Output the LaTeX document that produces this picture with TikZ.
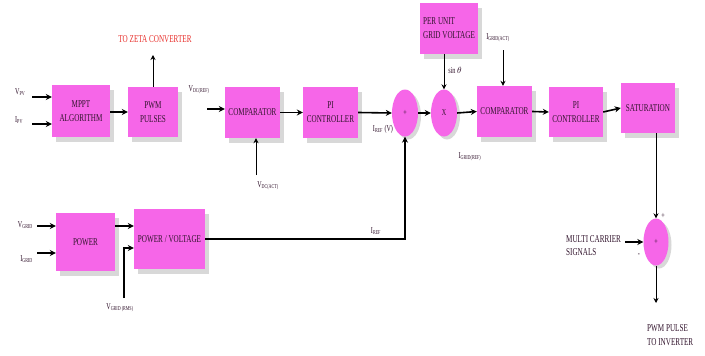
\documentclass[tikz,border=0pt]{standalone}
\usepackage{fontspec}
\setmainfont{Liberation Serif}[FakeStretch=0.68]
\usetikzlibrary{shapes.geometric,shadows,arrows.meta,calc}
\definecolor{boxpink}{RGB}{246,102,232}
\definecolor{txt}{RGB}{50,20,45}
\definecolor{zred}{RGB}{232,48,44}
\tikzset{
  blk/.style={rectangle, fill=boxpink, draw=none, text=txt, align=center,
    font=\fontsize{10.5}{14}\selectfont,
    drop shadow={shadow xshift=4pt, shadow yshift=-5pt, opacity=0.3, fill=gray}},
  sumnode/.style={ellipse, fill=boxpink, draw=none, text=txt, inner sep=0pt,
    font=\fontsize{9}{10}\selectfont,
    drop shadow={shadow xshift=3pt, shadow yshift=-3pt, opacity=0.3, fill=gray}},
  lbl/.style={text=txt, inner sep=0pt, font=\fontsize{9}{10}\selectfont},
  thk/.style={line width=1.6pt, -{Stealth[length=6pt,width=6pt]}},
  thn/.style={line width=0.9pt, -{Stealth[length=5pt,width=5pt]}},
}
\begin{document}
\begin{tikzpicture}[x=1pt,y=-1pt]
\useasboundingbox[fill=white] (0,0) rectangle (705,356);
% blocks
\node[blk, minimum width=58pt, minimum height=52pt] (mppt) at (81,111) {MPPT\\ALGORITHM};
\node[blk, minimum width=50pt, minimum height=50pt] (pwm) at (153,112) {PWM\\PULSES};
\node[blk, minimum width=55pt, minimum height=51pt] (comp1) at (252.5,112.5) {COMPARATOR};
\node[blk, minimum width=55pt, minimum height=51pt] (pi1) at (330.5,112.5) {PI\\CONTROLLER};
\node[sumnode, minimum width=26pt, minimum height=47pt] (plus) at (405,113) {+};
\node[sumnode, minimum width=26pt, minimum height=47pt] (mult) at (444,113) {X};
\node[blk, minimum width=56pt, minimum height=51pt, align=left, anchor=center] (pu) at (449,28.5) {PER UNIT\\GRID VOLTAGE};
\node[blk, minimum width=55pt, minimum height=51pt] (comp2) at (504.5,111.5) {COMPARATOR};
\node[blk, minimum width=54pt, minimum height=50pt] (pi2) at (576,112) {PI\\CONTROLLER};
\node[blk, minimum width=54pt, minimum height=50pt] (sat) at (648,108) {SATURATION};
\node[sumnode, minimum width=25pt, minimum height=47pt] (sum) at (656,242) {+};
\node[blk, minimum width=59pt, minimum height=58pt] (power) at (85.5,242) {POWER};
\node[blk, minimum width=71pt, minimum height=60pt] (pv) at (169.5,239) {POWER / VOLTAGE};
% texts
\node[text=zred, inner sep=0pt, font=\fontsize{10.5}{12}\selectfont] (zeta) at (155,39) {TO ZETA CONVERTER};
\node[lbl, anchor=west] (vpvl) at (15,92) {V\textsubscript{PV}};
\node[lbl, anchor=west] (ipvl) at (15,120) {I\textsubscript{PV}};
\node[lbl] (vdcrefl) at (199,90) {V\textsubscript{DC(REF)}};
\node[lbl] (irefvl) at (383,129) {I\textsubscript{REF} (V)};
\node[lbl] (vdcactl) at (268,186) {V\textsubscript{DC(ACT)}};
\node[lbl] (sinl) at (455,70) {sin $\theta$};
\node[lbl] (igactl) at (498,38) {I\textsubscript{GRID(ACT)}};
\node[lbl] (igrefl) at (470,157) {I\textsubscript{GRID(REF)}};
\node[lbl, anchor=east] (vgl) at (33,225) {V\textsubscript{GRID}};
\node[lbl, anchor=east] (igl) at (33,259) {I\textsubscript{GRID}};
\node[lbl] (irefl) at (376,231) {I\textsubscript{REF}};
\node[lbl] (vrmsl) at (120,308) {V\textsubscript{GRID (RMS)}};
\node[lbl] (pl1) at (663,216) {+};
\node[lbl] (ml1) at (639,255) {-};
\node[text=txt, inner sep=0pt, align=left, anchor=west, font=\fontsize{10.5}{13}\selectfont] (mcs) at (566,246) {MULTI CARRIER\\SIGNALS};
\node[text=txt, inner sep=0pt, align=left, anchor=north west, font=\fontsize{10.5}{14}\selectfont] (outl) at (647,324) {PWM PULSE\\TO INVERTER};
% free coordinates
\coordinate (vpv) at (32,97);
\coordinate (ipv) at (32,124);
\coordinate (zetaend) at (153,55);
\coordinate (vdcref) at (207,109);
\coordinate (vdcact) at (256,175);
\coordinate (igact) at (503,50);
\coordinate (vg) at (37,226);
\coordinate (ig) at (37,253);
\coordinate (vrms) at (124,298);
\coordinate (pvin) at (134,248);
\coordinate (mc) at (625,242);
\coordinate (outend) at (656,303);
% connectors
\draw[thk] (vpv) -- (vpv -| mppt.west);
\draw[thk] (ipv) -- (ipv -| mppt.west);
\draw[thk] (mppt.east |- pwm.west) -- (pwm.west);
\draw[thn] (pwm.north) -- (zetaend);
\draw[thk] (vdcref) -- (vdcref -| comp1.west);
\draw[thn] (vdcact) -- (vdcact |- comp1.south);
\draw[thk] (comp1.east) -- (pi1.west);
\draw[thk] (pi1.east) -- (plus.west);
\draw[thk] (plus.east) -- (mult.west);
\draw[thn] (pu.south -| mult.north) -- (mult.north);
\draw[thk] (mult.east) -- (comp2.west);
\draw[thn] (igact) -- (igact |- comp2.north);
\draw[thk] (comp2.east) -- (pi2.west);
\draw[thk] (pi2.east) -- (sat.west);
\draw[thn] (sum.north |- sat.south) -- (sum.north);
\draw[thk] (mc) -- (sum.west);
\draw[thn] (sum.south) -- (outend);
\draw[thk] (vg) -- (vg -| power.west);
\draw[thk] (ig) -- (ig -| power.west);
\draw[thk] (vg -| power.east) -- (vg -| pv.west);
\draw[line width=1.2pt, -{Stealth[length=6pt,width=6pt]}] (vrms) |- (pvin -| pv.west);
\draw[line width=1.6pt, -{Stealth[length=6pt,width=6pt]}] (pv.east) -| (plus.south);
\end{tikzpicture}
\end{document}
